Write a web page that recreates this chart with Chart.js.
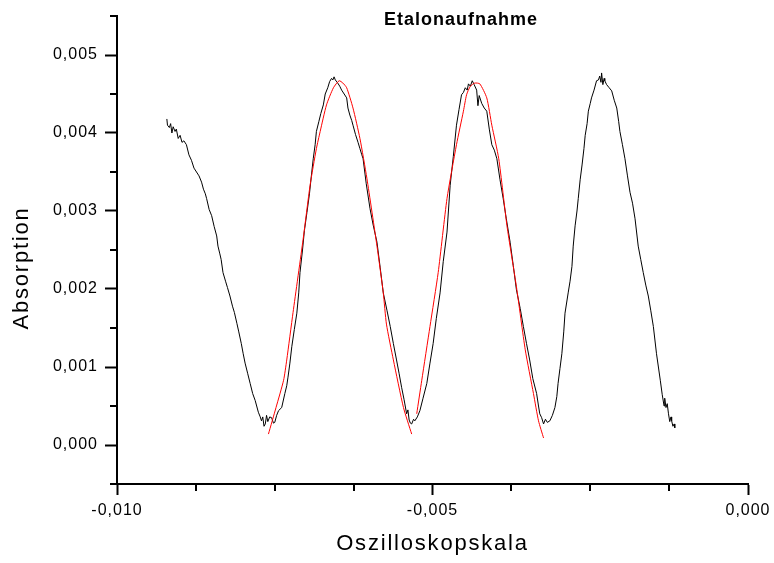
<!DOCTYPE html>
<html>
<head>
<meta charset="utf-8">
<script src="https://cdn.jsdelivr.net/npm/chart.js@4/dist/chart.umd.min.js"></script>
<style>
  html, body { margin: 0; padding: 0; background: #fff; }
  #wrap { width: 774px; height: 563px; }
</style>
</head>
<body>
<div id="wrap"><canvas id="c" width="774" height="563"></canvas></div>
<script>
// ---------- DATA ----------
const chartTitle = "Etalonaufnahme";
const xAxisTitle = "Oszilloskopskala";
const yAxisTitle = "Absorption";
const xMajorTicks = [-0.010, -0.005, 0.000];
const yMajorTicks = [0.000, 0.001, 0.002, 0.003, 0.004, 0.005];

// measured signal (black)
const blackX = [
-0.00921,-0.00920,-0.00917,-0.00915,-0.00913,-0.00911,-0.00908,-0.00906,-0.00903,-0.00900,
-0.00897,-0.00894,-0.00890,-0.00886,-0.00882,-0.00878,-0.00874,-0.00870,-0.00866,-0.00863,
-0.00860,-0.00858,-0.00854,-0.00850,-0.00846,-0.00842,-0.00840,-0.00837,-0.00835,-0.00832,
-0.00828,-0.00825,-0.00821,-0.00817,-0.00814,-0.00810,-0.00807,-0.00803,-0.00800,-0.00797,
-0.00793,-0.00789,-0.00785,-0.00781,-0.00776,-0.00773,-0.00771,-0.00769,-0.00767,-0.00765,
-0.00763,-0.00761,-0.00758,-0.00755,-0.00752,-0.00750,-0.00747,-0.00744,-0.00739,-0.00734,
-0.00731,-0.00729,-0.00726,-0.00723,-0.00719,-0.00715,-0.00712,-0.00710,-0.00706,-0.00703,
-0.00699,-0.00695,-0.00692,-0.00689,-0.00686,-0.00684,-0.00680,-0.00677,-0.00673,-0.00670,
-0.00666,-0.00663,-0.00660,-0.00658,-0.00656,-0.00654,-0.00651,-0.00647,-0.00644,-0.00640,
-0.00636,-0.00634,-0.00631,-0.00628,-0.00626,-0.00622,-0.00618,-0.00615,-0.00612,-0.00610,
-0.00605,-0.00599,-0.00594,-0.00588,-0.00583,-0.00578,-0.00572,-0.00567,-0.00562,-0.00557,
-0.00553,-0.00549,-0.00545,-0.00541,-0.00539,-0.00537,-0.00535,-0.00533,-0.00530,-0.00528,
-0.00524,-0.00520,-0.00515,-0.00509,-0.00504,-0.00499,-0.00494,-0.00488,-0.00483,-0.00477,
-0.00472,-0.00467,-0.00462,-0.00458,-0.00454,-0.00451,-0.00448,-0.00445,-0.00443,-0.00440,
-0.00437,-0.00434,-0.00430,-0.00428,-0.00426,-0.00422,-0.00418,-0.00414,-0.00410,-0.00406,
-0.00402,-0.00398,-0.00393,-0.00388,-0.00383,-0.00377,-0.00372,-0.00367,-0.00361,-0.00356,
-0.00351,-0.00346,-0.00341,-0.00335,-0.00332,-0.00330,-0.00327,-0.00324,-0.00321,-0.00318,
-0.00314,-0.00310,-0.00306,-0.00303,-0.00301,-0.00298,-0.00295,-0.00292,-0.00290,-0.00285,
-0.00282,-0.00279,-0.00277,-0.00274,-0.00271,-0.00269,-0.00266,-0.00263,-0.00260,-0.00258,
-0.00255,-0.00253,-0.00250,-0.00248,-0.00244,-0.00240,-0.00237,-0.00235,-0.00233,-0.00232,
-0.00230,-0.00228,-0.00227,-0.00224,-0.00220,-0.00216,-0.00212,-0.00208,-0.00205,-0.00203,
-0.00199,-0.00195,-0.00191,-0.00187,-0.00183,-0.00179,-0.00174,-0.00170,-0.00166,-0.00162,
-0.00158,-0.00154,-0.00150,-0.00145,-0.00142,-0.00139,-0.00136,-0.00133,-0.00132,-0.00130,
-0.00128,-0.00126,-0.00124,-0.00122,-0.00121,-0.00119,-0.00117,-0.00116
];
const blackY = [
0.00418,0.00410,0.00407,0.00412,0.00400,0.00408,0.00402,0.00405,0.00393,0.00397,
0.00388,0.00390,0.00385,0.00372,0.00365,0.00355,0.00350,0.00345,0.00337,0.00328,
0.00322,0.00316,0.00302,0.00294,0.00280,0.00268,0.00255,0.00245,0.00238,0.00221,
0.00210,0.00202,0.00191,0.00178,0.00170,0.00156,0.00145,0.00130,0.00117,0.00105,
0.00092,0.00079,0.00066,0.00057,0.00042,0.00036,0.00031,0.00036,0.00024,0.00027,
0.00038,0.00030,0.00036,0.00035,0.00028,0.00029,0.00038,0.00044,0.00048,0.00066,
0.00076,0.00087,0.00105,0.00126,0.00148,0.00169,0.00195,0.00221,0.00250,0.00275,
0.00298,0.00322,0.00345,0.00367,0.00385,0.00402,0.00415,0.00425,0.00436,0.00450,
0.00458,0.00466,0.00470,0.00468,0.00472,0.00468,0.00465,0.00460,0.00455,0.00450,
0.00445,0.00432,0.00423,0.00416,0.00410,0.00398,0.00388,0.00380,0.00372,0.00367,
0.00335,0.00303,0.00282,0.00260,0.00228,0.00195,0.00172,0.00152,0.00130,0.00109,
0.00092,0.00074,0.00058,0.00040,0.00045,0.00032,0.00028,0.00027,0.00033,0.00031,
0.00036,0.00044,0.00060,0.00079,0.00105,0.00130,0.00162,0.00195,0.00235,0.00273,
0.00333,0.00370,0.00410,0.00430,0.00449,0.00452,0.00458,0.00455,0.00463,0.00460,
0.00467,0.00462,0.00455,0.00435,0.00448,0.00438,0.00432,0.00428,0.00405,0.00385,
0.00378,0.00367,0.00340,0.00316,0.00290,0.00260,0.00230,0.00199,0.00175,0.00152,
0.00130,0.00109,0.00085,0.00066,0.00050,0.00040,0.00035,0.00027,0.00033,0.00029,
0.00031,0.00038,0.00048,0.00062,0.00079,0.00098,0.00117,0.00145,0.00169,0.00195,
0.00210,0.00229,0.00255,0.00281,0.00300,0.00316,0.00340,0.00359,0.00380,0.00397,
0.00412,0.00428,0.00438,0.00445,0.00455,0.00467,0.00468,0.00473,0.00465,0.00477,
0.00462,0.00470,0.00467,0.00462,0.00458,0.00454,0.00442,0.00432,0.00415,0.00402,
0.00385,0.00367,0.00345,0.00324,0.00310,0.00290,0.00255,0.00238,0.00221,0.00205,
0.00191,0.00172,0.00152,0.00117,0.00100,0.00083,0.00065,0.00050,0.00060,0.00048,
0.00053,0.00040,0.00030,0.00036,0.00031,0.00024,0.00027,0.00022
];

// fitted curve (red), first segment
const fit1X = [-0.00760,-0.00748,-0.00736,-0.00731,-0.00721,-0.00705,-0.00694,-0.00684,-0.00678,-0.00668,
               -0.00657,-0.00648,-0.00642,-0.00636,-0.00626,-0.00615,-0.00604,-0.00588,-0.00578,-0.00573,
               -0.00562,-0.00546,-0.00533];
const fit1Y = [0.00014,0.00048,0.00083,0.00109,0.00170,0.00264,0.00333,0.00380,0.00402,0.00436,
               0.00458,0.00467,0.00464,0.00458,0.00432,0.00393,0.00342,0.00255,0.00195,0.00155,
               0.00109,0.00048,0.00014];
// fitted curve (red), second segment
const fit2X = [-0.00525,-0.00517,-0.00504,-0.00491,-0.00477,-0.00462,-0.00451,-0.00446,-0.00440,-0.00433,
               -0.00425,-0.00414,-0.00406,-0.00395,-0.00382,-0.00367,-0.00353,-0.00340,-0.00332,-0.00324];
const fit2Y = [0.00040,0.00083,0.00152,0.00221,0.00316,0.00385,0.00428,0.00449,0.00460,0.00464,
               0.00463,0.00445,0.00410,0.00367,0.00281,0.00203,0.00122,0.00066,0.00031,0.00009];

// ---------- HELPERS ----------
const FONT = "'Liberation Sans', Arial, Helvetica, sans-serif";
const isMultiple = (v, step) => Math.abs(v / step - Math.round(v / step)) < 1e-6;
const fmt = v => {
  const s = Math.abs(v).toFixed(3).replace('.', ',');
  return (v < -1e-9 ? '-' : '') + s;
};
const pts = (xs, ys) => xs.map((x, i) => ({ x: x, y: ys[i] }));

// canvas context with letter spacing similar to the reference export
const canvas = document.getElementById('c');
const ctx2d = canvas.getContext('2d');
const origFill = ctx2d.fillText;
ctx2d.fillText = function (text, x, y, maxWidth) {
  const m = /(\d+(?:\.\d+)?)px/.exec(this.font);
  const size = m ? parseFloat(m[1]) : 12;
  const bold = /bold|700/.test(this.font);
  this.letterSpacing = bold ? '1px' : (size >= 20 ? '1.8px' : '1px');
  if (maxWidth === undefined) origFill.call(this, text, x, y);
  else origFill.call(this, text, x, y, maxWidth);
  this.letterSpacing = '0px';
};

const AX_LEFT = 117, AX_RIGHT = 748, AX_TOP = 16, AX_BOTTOM = 484;

const minorTicks = {
  id: 'minorTicks',
  afterDraw(chart) {
    const c = chart.ctx;
    const xs = chart.scales.x, ys = chart.scales.y;
    c.save();
    c.strokeStyle = '#000';
    c.lineWidth = 2;
    ys.ticks.forEach(t => {
      if (!isMultiple(t.value, 0.001)) {
        const py = Math.round(ys.getPixelForValue(t.value));
        c.beginPath(); c.moveTo(xs.left - 7, py); c.lineTo(xs.left, py); c.stroke();
      }
    });
    xs.ticks.forEach(t => {
      if (!isMultiple(t.value, 0.005)) {
        const px = Math.round(xs.getPixelForValue(t.value));
        c.beginPath(); c.moveTo(px, ys.bottom); c.lineTo(px, ys.bottom + 7); c.stroke();
      }
    });
    c.restore();
  }
};

const texts = {
  id: 'texts',
  afterDraw(chart) {
    const c = chart.ctx;
    c.save();
    c.fillStyle = '#000';
    c.textAlign = 'center';
    c.textBaseline = 'middle';
    c.font = 'bold 18px ' + FONT;
    c.fillText(chartTitle, 461, 20);
    c.translate(22, 268);
    c.rotate(-Math.PI / 2);
    c.font = '22px ' + FONT;
    c.fillText(yAxisTitle, 0, 0);
    c.restore();
  }
};

new Chart(ctx2d, {
  type: 'line',
  data: {
    datasets: [
      { label: 'Messung', data: pts(blackX, blackY), borderColor: '#000000', borderWidth: 1,
        pointRadius: 0, tension: 0, fill: false, order: 2 },
      { label: 'Fit 1', data: pts(fit1X, fit1Y), borderColor: '#ff0000', borderWidth: 1,
        pointRadius: 0, tension: 0.2, fill: false, order: 1 },
      { label: 'Fit 2', data: pts(fit2X, fit2Y), borderColor: '#ff0000', borderWidth: 1,
        pointRadius: 0, tension: 0.2, fill: false, order: 1 }
    ]
  },
  options: {
    responsive: false,
    animation: false,
    devicePixelRatio: 1,
    layout: { padding: { left: 0, right: 774 - AX_RIGHT, top: AX_TOP, bottom: 0 } },
    plugins: { legend: { display: false }, tooltip: { enabled: false }, title: { display: false } },
    scales: {
      x: {
        type: 'linear',
        min: -0.010, max: 0.000,
        border: { display: true, color: '#000', width: 2 },
        grid: { drawOnChartArea: false, drawTicks: true, tickLength: 11, tickWidth: 2,
                tickColor: c => (isMultiple(c.tick.value, 0.005) ? '#000' : 'rgba(0,0,0,0)') },
        ticks: {
          stepSize: 0.00125, autoSkip: false, maxRotation: 0, padding: 6,
          color: '#000', font: { family: FONT, size: 16 },
          callback: v => (xMajorTicks.some(m => Math.abs(m - v) < 1e-9) ? fmt(v) : '')
        },
        title: { display: true, text: xAxisTitle, color: '#000',
                 font: { family: FONT, size: 22 }, padding: { top: 0, bottom: 6 } },
        afterFit: s => { s.height = 563 - AX_BOTTOM; s.paddingLeft = 0; s.paddingRight = 0; }
      },
      y: {
        type: 'linear',
        min: -0.0005, max: 0.0055,
        border: { display: true, color: '#000', width: 2 },
        grid: { drawOnChartArea: false, drawTicks: true, tickLength: 12, tickWidth: 2,
                tickColor: c => (isMultiple(c.tick.value, 0.001) ? '#000' : 'rgba(0,0,0,0)') },
        ticks: {
          stepSize: 0.0005, autoSkip: false, padding: 7,
          color: '#000', font: { family: FONT, size: 16 },
          callback: v => (yMajorTicks.some(m => Math.abs(m - v) < 1e-9) ? fmt(v) : '')
        },
        title: { display: false },
        afterFit: s => { s.width = AX_LEFT; s.paddingTop = 0; s.paddingBottom = 0; }
      }
    }
  },
  plugins: [minorTicks, texts]
});
</script>
</body>
</html>
